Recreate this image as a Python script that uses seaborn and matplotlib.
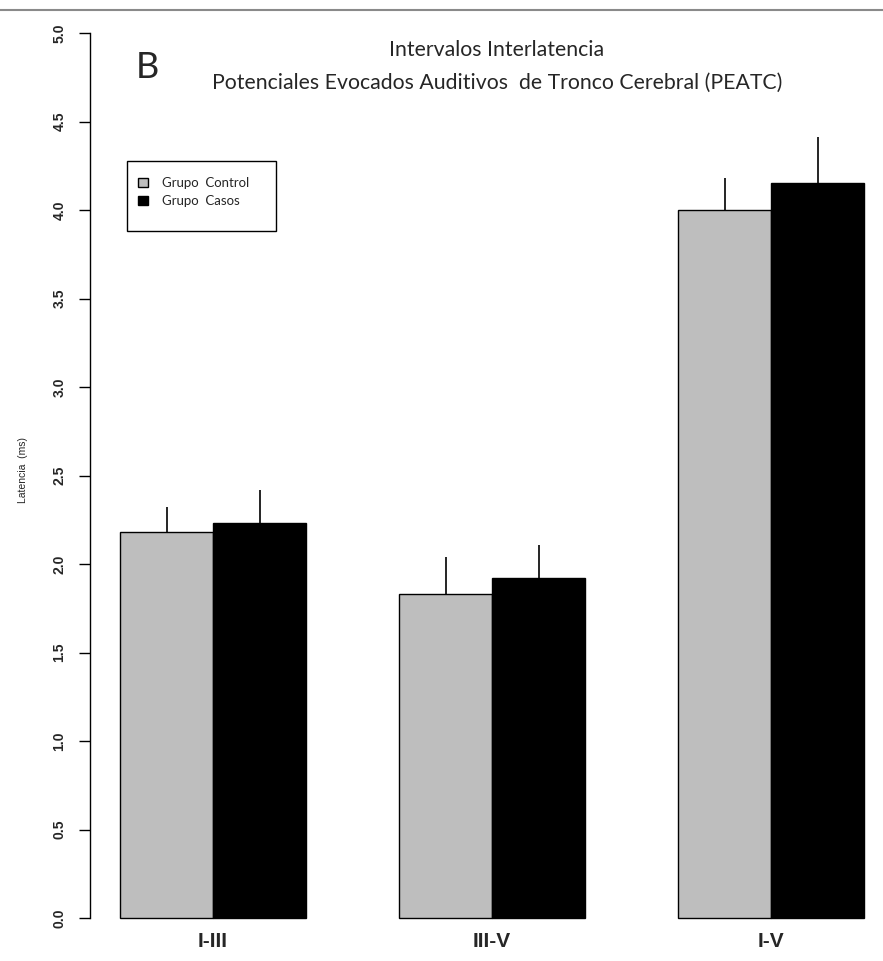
import matplotlib
matplotlib.use("Agg")
import matplotlib.pyplot as plt
import seaborn as sns
import pandas as pd
from matplotlib.patches import Patch, Rectangle
from matplotlib.lines import Line2D
from matplotlib import font_manager

# ---- data ----
intervals = ["I-III", "III-V", "I-V"]
groups = ["Grupo  Control", "Grupo  Casos"]
control_mean = [2.18, 1.83, 4.00]
control_sd = [0.14, 0.21, 0.18]
casos_mean = [2.23, 1.92, 4.15]
casos_sd = [0.19, 0.19, 0.26]
ytick_vals = [0.0, 0.5, 1.0, 1.5, 2.0, 2.5, 3.0, 3.5, 4.0, 4.5, 5.0]
colors = ["#BEBEBE", "#000000"]

df = pd.DataFrame({
    "Intervalo": intervals * 2,
    "Grupo": [groups[0]] * 3 + [groups[1]] * 3,
    "Latencia": control_mean + casos_mean,
})

sns.set_style("white")
plt.rcParams['font.family'] = ['Liberation Sans', 'DejaVu Sans']

names = {f.name for f in font_manager.fontManager.ttflist}
narrow = 'Liberation Sans Narrow' if 'Liberation Sans Narrow' in names else 'Liberation Sans'

W, H = 883, 961
fig = plt.figure(figsize=(W / 100, H / 100), dpi=100)
y_bot, y_top = 935.7, 6.45
x_left, x_right = 90, 883
ax = fig.add_axes([x_left / W, (H - y_bot) / H, (x_right - x_left) / W, (y_bot - y_top) / H])

sns.barplot(data=df, x="Intervalo", y="Latencia", hue="Grupo", order=intervals,
            hue_order=groups, palette=colors, width=2 / 3, saturation=1,
            edgecolor="black", linewidth=1, errorbar=None, legend=False, ax=ax)

# error bars (upper only, no caps)
bars = sorted(ax.patches, key=lambda p: p.get_x())
sds = []
for c, k in zip(control_sd, casos_sd):
    sds += [c, k]
for p, s in zip(bars, sds):
    xc = p.get_x() + p.get_width() / 2
    h = p.get_height()
    ax.vlines(xc, h, h + s, color="black", linewidth=1.2)

ax.set_ylim(-0.1, 5.15)
ax.set_xlim(-0.4409, 2.4014)

for s in ["top", "right", "bottom"]:
    ax.spines[s].set_visible(False)
ax.spines["left"].set_bounds(0, 5)
ax.spines["left"].set_color("black")
ax.spines["left"].set_linewidth(1)

ax.set_yticks(ytick_vals)
ax.set_yticklabels([f"{v:.1f}" for v in ytick_vals], rotation=90, va="center",
                   fontsize=10, fontweight="bold")
ax.tick_params(axis="y", length=8, width=1, color="black", pad=9, left=True)
ax.tick_params(axis="x", length=0, pad=-3)
for lab in ax.get_xticklabels():
    lab.set_fontfamily([narrow, 'DejaVu Sans'])
    lab.set_fontsize(15)
    lab.set_fontweight("bold")

ax.set_xlabel("")
ax.set_ylabel("Latencia  (ms)", fontsize=7.5)
ax.yaxis.set_label_coords((28 - x_left) / (x_right - x_left), (y_bot - 470) / (y_bot - y_top))

# legend
handles = [Patch(facecolor=colors[0], edgecolor="black", linewidth=1),
           Patch(facecolor=colors[1], edgecolor="black", linewidth=1)]
leg = fig.legend(handles, groups, loc="upper left",
                 bbox_to_anchor=(138 / W, 1 - 177 / H), frameon=False,
                 prop={"family": ['Lato', 'DejaVu Sans'], "size": 9.5},
                 handlelength=0.75, handleheight=0.75,
                 handletextpad=1.1, labelspacing=0.45, borderpad=0, borderaxespad=0)
fig.add_artist(Rectangle((127 / W, 1 - 231 / H), (276 - 127) / W, (231 - 161) / H,
                         transform=fig.transFigure, fill=False, edgecolor="black",
                         linewidth=1))

# titles
title_font = ['Lato', 'DejaVu Sans']
fig.text(497 / W, 1 - 50 / H, "Intervalos Interlatencia", ha="center", va="center",
         fontsize=15.3, family=title_font)
fig.text(497 / W, 1 - 83 / H, "Potenciales Evocados Auditivos  de Tronco Cerebral (PEATC)",
         ha="center", va="center", fontsize=15.3, family=title_font)
fig.text(147 / W, 1 - 68 / H, "B", ha="center", va="center", fontsize=26, family=title_font)

# top separator line
fig.add_artist(Line2D([0, 1], [1 - 10 / H, 1 - 10 / H], transform=fig.transFigure,
                      color="#8a8a8a", linewidth=1.5))

fig.savefig("out.png", dpi=100)
